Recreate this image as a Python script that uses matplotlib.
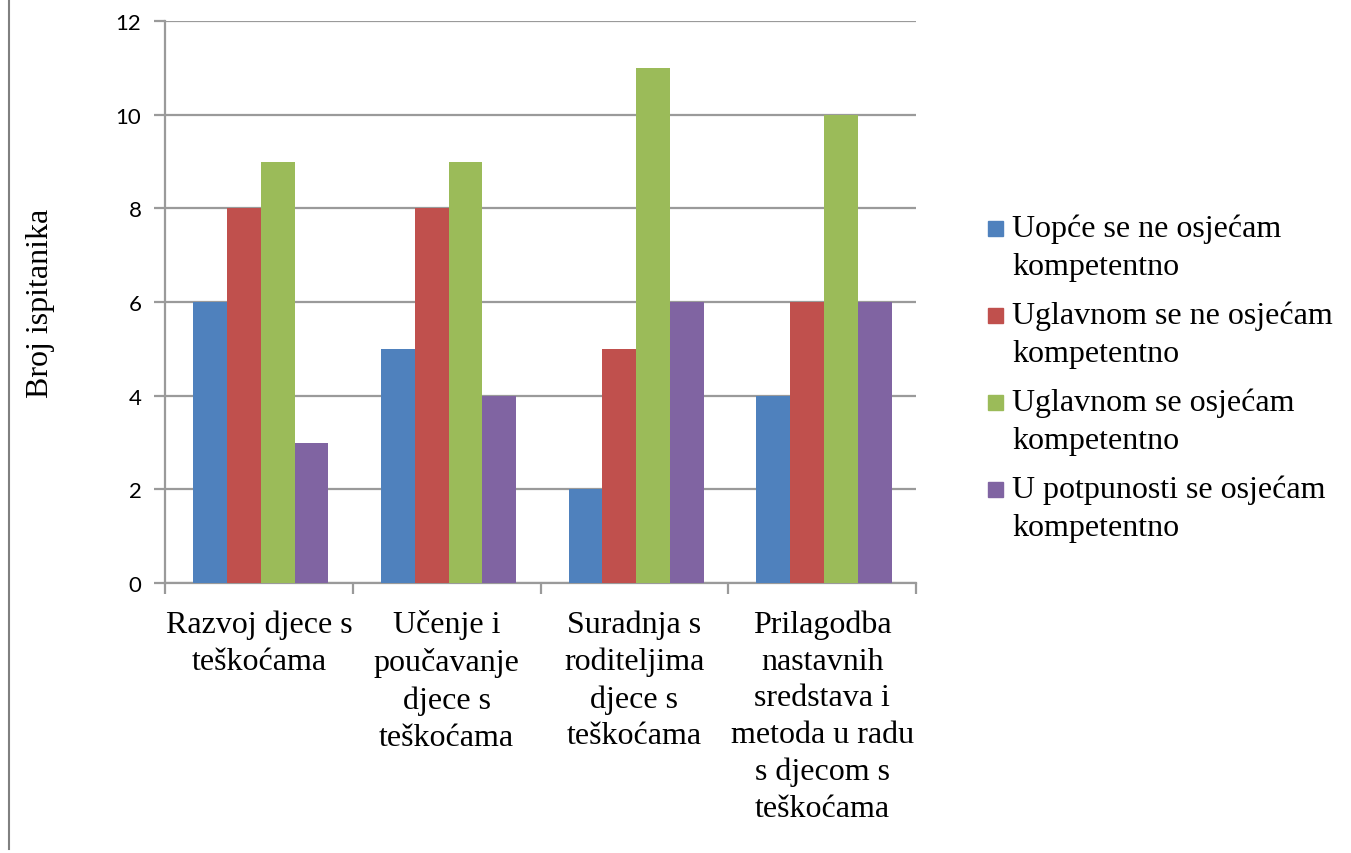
import matplotlib
matplotlib.use("Agg")
import matplotlib.pyplot as plt
import numpy as np
from matplotlib.lines import Line2D
from matplotlib.patches import Rectangle

categories = ["Razvoj djece s\nteškoćama",
              "Učenje i\npoučavanje\ndjece s\nteškoćama",
              "Suradnja s\nroditeljima\ndjece s\nteškoćama",
              "Prilagodba\nnastavnih\nsredstava i\nmetoda u radu\ns djecom s\nteškoćama"]
series_names = ["Uopće se ne osjećam\nkompetentno",
                "Uglavnom se ne osjećam\nkompetentno",
                "Uglavnom se osjećam\nkompetentno",
                "U potpunosti se osjećam\nkompetentno"]
uopce_ne = [6, 5, 2, 4]
uglavnom_ne = [8, 8, 5, 6]
uglavnom_da = [9, 9, 11, 10]
potpuno = [3, 4, 6, 6]
series = [uopce_ne, uglavnom_ne, uglavnom_da, potpuno]
colors = ["#4F81BD", "#C0504D", "#9BBB59", "#8064A2"]
yticks = [0, 2, 4, 6, 8, 10, 12]

W, H = 1351, 854
fig = plt.figure(figsize=(W/100, H/100), dpi=100)
ax = fig.add_axes([165/W, 1-584/H, (916-165)/W, (584-22)/H])

x = np.arange(len(categories))
bw = 0.18
for i, (vals, c, name) in enumerate(zip(series, colors, series_names)):
    ax.bar(x + (i-1.5)*bw + 0.01, vals, bw, color=c, label=name, zorder=3)

grid_c = "#9a9a9a"
serif = "Liberation Serif"
ax.set_ylim(0, 12)
ax.set_xlim(-0.5, len(categories)-0.5)
ax.set_yticks(yticks)
ax.set_yticklabels([str(v) for v in yticks], fontfamily="Lato", fontsize=16)
ax.yaxis.grid(True, color=grid_c, linewidth=1.6, zorder=0)
ax.tick_params(axis="y", length=8, width=1.6, color=grid_c, pad=9)
ax.set_xticks(np.arange(len(categories)+1) - 0.5)
ax.set_xticklabels([])
ax.set_xticks(x, minor=True)
ax.set_xticklabels(categories, minor=True, fontfamily=serif,
                   fontsize=23, linespacing=1.35, va="top")
ax.tick_params(axis="x", which="major", length=8, width=1.6, color=grid_c)
ax.tick_params(axis="x", which="minor", length=0, pad=19)
for s in ["top", "right"]:
    ax.spines[s].set_visible(False)
for s in ["left", "bottom"]:
    ax.spines[s].set_color(grid_c)
    ax.spines[s].set_linewidth(1.6)

ax.set_ylabel("Broj ispitanika", fontfamily=serif, fontsize=23)
ax.yaxis.set_label_coords(-(165-41)/(916-165), 0.5)
ax.yaxis.label.set_va("center")

# legend (handles aligned with the first line of each label, as in the original)
for i, (name, c) in enumerate(zip(series_names, colors)):
    y0 = 222 + 87*i
    fig.add_artist(Rectangle((988/W, 1-(y0+15)/H), 15/W, 15/H, color=c,
                             transform=fig.transFigure))
    fig.text(1012/W, 1-(y0-7)/H, name, fontfamily=serif, fontsize=23,
             va="top", ha="left", linespacing=1.4)

fig.add_artist(Line2D([8.5/W, 8.5/W], [1-850/H, 1.0], color="#808080",
                      linewidth=1.5, transform=fig.transFigure))

fig.savefig("out.png", dpi=100)
